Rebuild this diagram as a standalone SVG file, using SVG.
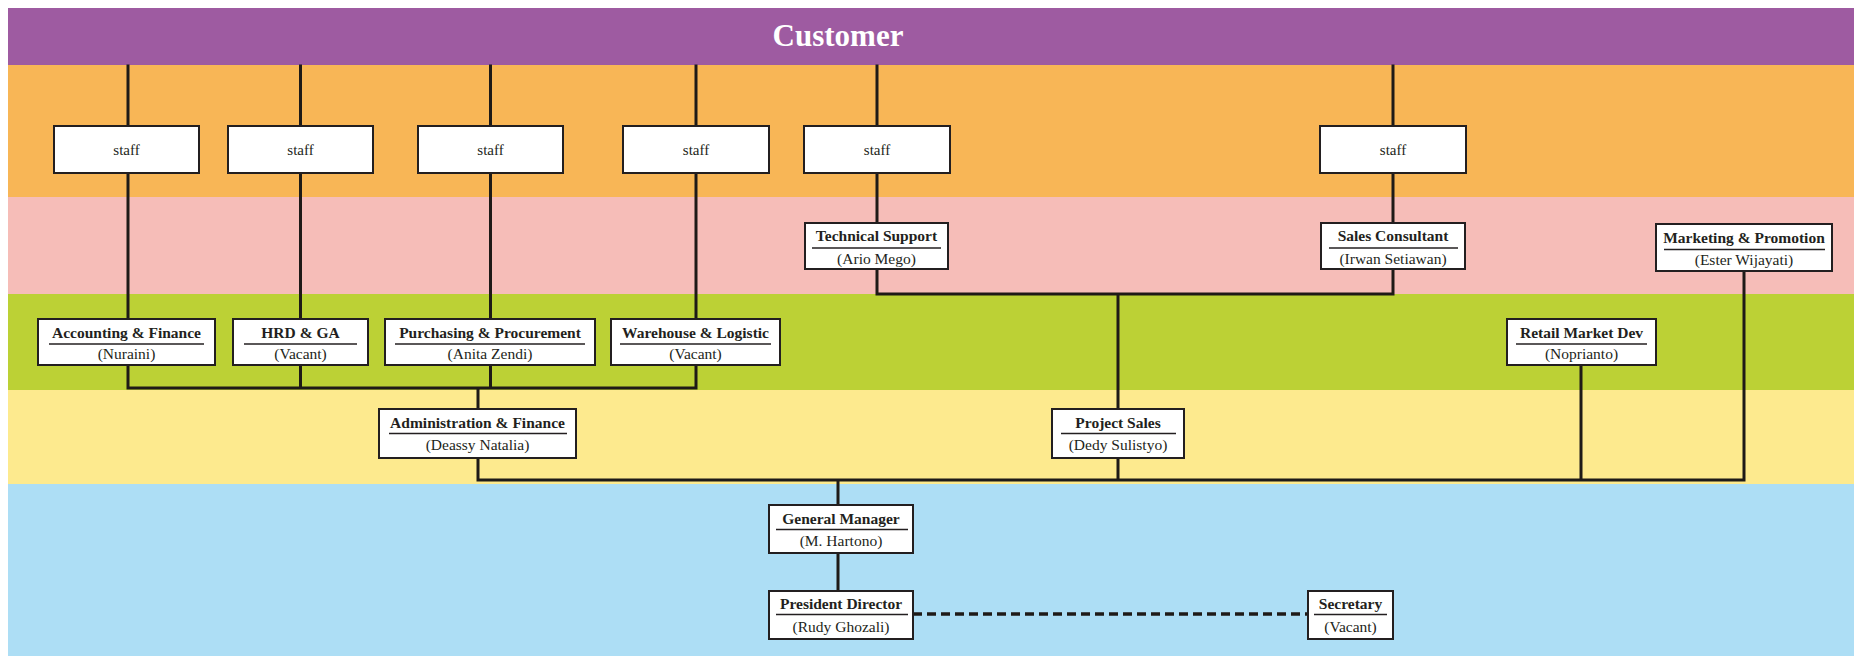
<svg xmlns="http://www.w3.org/2000/svg" width="1854" height="656" viewBox="0 0 1854 656">
<style>
.box{fill:#ffffff;stroke:#231f20;stroke-width:2}
.t{font-family:"Liberation Serif","Times New Roman",serif;font-size:15.5px;font-weight:bold;fill:#231f20;text-anchor:middle}
.n{font-family:"Liberation Serif","Times New Roman",serif;font-size:15.5px;fill:#231f20;text-anchor:middle}
.s{font-family:"Liberation Serif","Times New Roman",serif;font-size:15px;fill:#231f20;text-anchor:middle}
.dv{stroke:#231f20;stroke-width:1.5}
.c{fill:none;stroke:#1e1a17;stroke-width:3;stroke-linecap:square;stroke-linejoin:miter}
.d{fill:none;stroke:#1e1a17;stroke-width:3.5;stroke-dasharray:9 5}
</style>
<rect x="0" y="0" width="1854" height="656" fill="#ffffff"/>
<g id="bands">
<rect x="8" y="8" width="1846" height="57" fill="#9e5ba1"/>
<rect x="8" y="65" width="1846" height="132" fill="#f8b656"/>
<rect x="8" y="197" width="1846" height="97" fill="#f6bdb8"/>
<rect x="8" y="294" width="1846" height="96" fill="#bcd135"/>
<rect x="8" y="390" width="1846" height="94" fill="#fdea8e"/>
<rect x="8" y="484" width="1846" height="172" fill="#addef5"/>
</g>
<g id="customer">
<text x="838" y="46" font-family="'Liberation Serif','Times New Roman',serif" font-size="31" font-weight="bold" fill="#ffffff" text-anchor="middle">Customer</text>
</g>
<g id="connectors">
<path class="c" d="M128 66V126M300.5 66V126M490.5 66V126M696 66V126M877 66V126M1393 66V126"/>
<path class="c" d="M128 173V319M300.5 173V319M490.5 173V319M696 173V319M877 173V223M1393 173V223"/>
<path class="c" d="M128 365V388H696V365M300.5 365V388M490.5 365V388M478 388V409"/>
<path class="c" d="M877 269V294H1393V269M1118 294V409"/>
<path class="c" d="M478 458V480H1744V271M1118 458V480M1581 365V480M838 480V505M838 553V591"/>
<path class="d" d="M913 614H1308"/>
</g>
<g id="staff1"><rect class="box" x="54" y="126" width="145" height="47"/><text class="s" x="126.5" y="155">staff</text></g>
<g id="staff2"><rect class="box" x="228" y="126" width="145" height="47"/><text class="s" x="300.5" y="155">staff</text></g>
<g id="staff3"><rect class="box" x="418" y="126" width="145" height="47"/><text class="s" x="490.5" y="155">staff</text></g>
<g id="staff4"><rect class="box" x="623" y="126" width="146" height="47"/><text class="s" x="696" y="155">staff</text></g>
<g id="staff5"><rect class="box" x="804" y="126" width="146" height="47"/><text class="s" x="877" y="155">staff</text></g>
<g id="staff6"><rect class="box" x="1320" y="126" width="146" height="47"/><text class="s" x="1393" y="155">staff</text></g>
<g id="technical-support"><rect class="box" x="805" y="223" width="143" height="46"/><text class="t" x="876.5" y="241">Technical Support</text><line class="dv" x1="812" y1="248" x2="941" y2="248"/><text class="n" x="876.5" y="263.5">(Ario Mego)</text></g>
<g id="sales-consultant"><rect class="box" x="1321" y="223" width="144" height="46"/><text class="t" x="1393" y="241">Sales Consultant</text><line class="dv" x1="1329" y1="248" x2="1458" y2="248"/><text class="n" x="1393" y="263.5">(Irwan Setiawan)</text></g>
<g id="marketing-promotion"><rect class="box" x="1656" y="224" width="176" height="47"/><text class="t" x="1744" y="242.5">Marketing &amp; Promotion</text><line class="dv" x1="1664" y1="249.5" x2="1825" y2="249.5"/><text class="n" x="1744" y="265">(Ester Wijayati)</text></g>
<g id="accounting-finance"><rect class="box" x="38" y="319" width="177" height="46"/><text class="t" x="126.5" y="337.5">Accounting &amp; Finance</text><line class="dv" x1="49" y1="344" x2="204" y2="344"/><text class="n" x="126.5" y="359">(Nuraini)</text></g>
<g id="hrd-ga"><rect class="box" x="233" y="319" width="135" height="46"/><text class="t" x="300.5" y="337.5">HRD &amp; GA</text><line class="dv" x1="244" y1="344" x2="357" y2="344"/><text class="n" x="300.5" y="359">(Vacant)</text></g>
<g id="purchasing-procurement"><rect class="box" x="385" y="319" width="210" height="46"/><text class="t" x="490" y="337.5">Purchasing &amp; Procurement</text><line class="dv" x1="395" y1="344" x2="585" y2="344"/><text class="n" x="490" y="359">(Anita Zendi)</text></g>
<g id="warehouse-logistic"><rect class="box" x="611" y="319" width="169" height="46"/><text class="t" x="695.5" y="337.5">Warehouse &amp; Logistic</text><line class="dv" x1="620" y1="344" x2="771" y2="344"/><text class="n" x="695.5" y="359">(Vacant)</text></g>
<g id="retail-market-dev"><rect class="box" x="1507" y="319" width="149" height="46"/><text class="t" x="1581.5" y="337.5">Retail Market Dev</text><line class="dv" x1="1516" y1="344" x2="1647" y2="344"/><text class="n" x="1581.5" y="359">(Noprianto)</text></g>
<g id="administration-finance"><rect class="box" x="379" y="409" width="197" height="49"/><text class="t" x="477.5" y="428">Administration &amp; Finance</text><line class="dv" x1="389" y1="433.5" x2="567" y2="433.5"/><text class="n" x="477.5" y="450">(Deassy Natalia)</text></g>
<g id="project-sales"><rect class="box" x="1052" y="409" width="132" height="49"/><text class="t" x="1118" y="428">Project Sales</text><line class="dv" x1="1061" y1="433.5" x2="1176" y2="433.5"/><text class="n" x="1118" y="450">(Dedy Sulistyo)</text></g>
<g id="general-manager"><rect class="box" x="769" y="505" width="144" height="48"/><text class="t" x="841" y="523.5">General Manager</text><line class="dv" x1="776" y1="529.5" x2="908" y2="529.5"/><text class="n" x="841" y="546">(M. Hartono)</text></g>
<g id="president-director"><rect class="box" x="769" y="591" width="144" height="48"/><text class="t" x="841" y="608.5">President Director</text><line class="dv" x1="776" y1="614.5" x2="908" y2="614.5"/><text class="n" x="841" y="632">(Rudy Ghozali)</text></g>
<g id="secretary"><rect class="box" x="1308" y="591" width="85" height="48"/><text class="t" x="1350.5" y="608.5">Secretary</text><line class="dv" x1="1314" y1="614.5" x2="1387" y2="614.5"/><text class="n" x="1350.5" y="632">(Vacant)</text></g>
</svg>
